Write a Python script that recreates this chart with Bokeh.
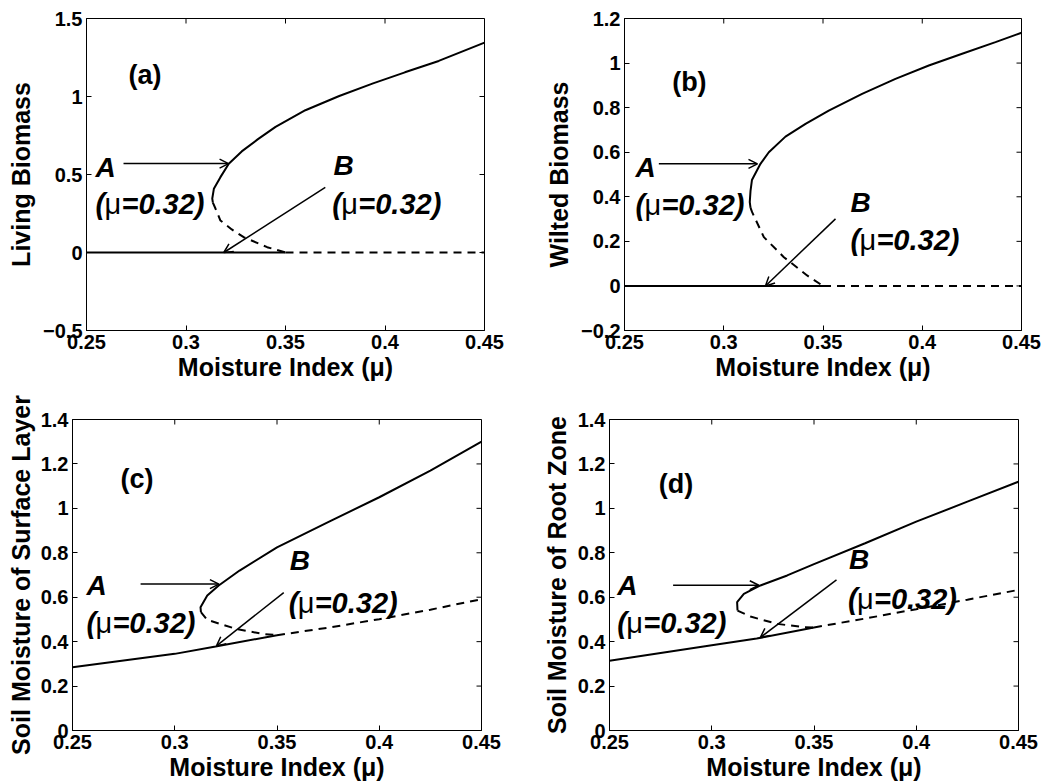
import math
from bokeh.plotting import figure
from bokeh.models import ColumnDataSource, FixedTicker, Range1d, Arrow, OpenHead
from bokeh.layouts import column, row
from bokeh.core.properties import value
from bokeh.embed import file_html
from bokeh.resources import INLINE

FONT = "Liberation Sans"

# ---------------- shared axis data ----------------
X_TICKS = [0.25, 0.3, 0.35, 0.4, 0.45]
X_TICK_LABELS = ["0.25", "0.3", "0.35", "0.4", "0.45"]
X_LABEL = "Moisture Index (\u03bc)"

# ---------------- panel (a): Living Biomass ----------------
a_y_ticks = [-0.5, 0.0, 0.5, 1.0, 1.5]
a_y_labels = ["\u22120.5", "0", "0.5", "1", "1.5"]
a_upper_x = [0.3135, 0.3132, 0.314, 0.3173, 0.3215, 0.328, 0.336, 0.345, 0.36, 0.377, 0.394, 0.41, 0.427, 0.45]
a_upper_y = [0.32, 0.346, 0.408, 0.483, 0.569, 0.648, 0.725, 0.805, 0.912, 1.003, 1.084, 1.155, 1.228, 1.345]
a_unst_x = [0.3135, 0.3148, 0.3173, 0.323, 0.329, 0.3408, 0.35]
a_unst_y = [0.32, 0.282, 0.205, 0.148, 0.098, 0.034, 0.0]
a_low_x = [0.25, 0.35]
a_low_y = [0.0, 0.0]
a_lowd_x = [0.35, 0.45]
a_lowd_y = [0.0, 0.0]
a_arrows = dict(x0=[0.2686, 0.370], y0=[0.57, 0.417], x1=[0.3214, 0.319], y1=[0.57, 0.0])
a_letters = dict(x=[0.2545, 0.3741], y=[0.545, 0.558], t=["A", "B"])
a_mu = dict(x=[0.2545, 0.3735], y=[0.314, 0.314])
a_tag = dict(x=[0.2711], y=[1.135], t=["(a)"])

# ---------------- panel (b): Wilted Biomass ----------------
b_y_ticks = [-0.2, 0.0, 0.2, 0.4, 0.6, 0.8, 1.0, 1.2]
b_y_labels = ["\u22120.2", "0", "0.2", "0.4", "0.6", "0.8", "1", "1.2"]
b_upper_x = [0.3135, 0.3131, 0.3135, 0.3142, 0.3185, 0.3227, 0.3311, 0.3412, 0.3529, 0.3697, 0.3865, 0.4033, 0.4201, 0.4369, 0.45]
b_upper_y = [0.35, 0.376, 0.428, 0.475, 0.548, 0.600, 0.670, 0.727, 0.787, 0.862, 0.929, 0.989, 1.042, 1.094, 1.136]
b_unst_x = [0.3135, 0.3143, 0.3202, 0.3303, 0.342, 0.35]
b_unst_y = [0.35, 0.331, 0.219, 0.129, 0.047, 0.0]
b_low_x = [0.25, 0.35]
b_low_y = [0.0, 0.0]
b_lowd_x = [0.35, 0.45]
b_lowd_y = [0.0, 0.0]
b_arrows = dict(x0=[0.2673, 0.3563], y0=[0.548, 0.301], x1=[0.317, 0.321], y1=[0.548, 0.0])
b_letters = dict(x=[0.2555, 0.3638], y=[0.533, 0.373], t=["A", "B"])
b_mu = dict(x=[0.2555, 0.3638], y=[0.361, 0.204])
b_tag = dict(x=[0.274], y=[0.914], t=["(b)"])

# ---------------- panel (c): Soil Moisture of Surface Layer ----------------
c_y_ticks = [0.0, 0.2, 0.4, 0.6, 0.8, 1.0, 1.2, 1.4]
c_y_labels = ["0", "0.2", "0.4", "0.6", "0.8", "1", "1.2", "1.4"]
c_upper_x = [0.3128, 0.3126, 0.3159, 0.3215, 0.3317, 0.35, 0.375, 0.40, 0.425, 0.45]
c_upper_y = [0.533, 0.555, 0.608, 0.653, 0.720, 0.824, 0.938, 1.05, 1.17, 1.30]
c_unst_x = [0.3128, 0.3159, 0.3298, 0.3428, 0.35]
c_unst_y = [0.533, 0.498, 0.458, 0.435, 0.429]
c_low_x = [0.25, 0.30, 0.32, 0.35]
c_low_y = [0.285, 0.345, 0.378, 0.429]
c_lowd_x = [0.35, 0.375, 0.40, 0.425, 0.45]
c_lowd_y = [0.429, 0.463, 0.501, 0.544, 0.591]
c_arrows = dict(x0=[0.2833, 0.3533], y0=[0.659, 0.621], x1=[0.3216, 0.3204], y1=[0.659, 0.381])
c_letters = dict(x=[0.2568, 0.3562], y=[0.651, 0.764], t=["A", "B"])
c_mu = dict(x=[0.2568, 0.3557], y=[0.486, 0.576])
c_tag = dict(x=[0.2735], y=[1.131], t=["(c)"])

# ---------------- panel (d): Soil Moisture of Root Zone ----------------
d_y_ticks = [0.0, 0.2, 0.4, 0.6, 0.8, 1.0, 1.2, 1.4]
d_y_labels = ["0", "0.2", "0.4", "0.6", "0.8", "1", "1.2", "1.4"]
d_upper_x = [0.3126, 0.3124, 0.3157, 0.3238, 0.3369, 0.35, 0.375, 0.40, 0.425, 0.45]
d_upper_y = [0.540, 0.578, 0.615, 0.653, 0.698, 0.749, 0.843, 0.940, 1.030, 1.12]
d_unst_x = [0.3126, 0.3189, 0.332, 0.345, 0.35]
d_unst_y = [0.540, 0.513, 0.480, 0.465, 0.464]
d_low_x = [0.25, 0.30, 0.322, 0.35]
d_low_y = [0.314, 0.384, 0.414, 0.464]
d_lowd_x = [0.35, 0.375, 0.40, 0.425, 0.45]
d_lowd_y = [0.464, 0.504, 0.546, 0.589, 0.633]
d_arrows = dict(x0=[0.2811, 0.361], y0=[0.654, 0.678], x1=[0.323, 0.3238], y1=[0.654, 0.419])
d_letters = dict(x=[0.2538, 0.3671], y=[0.651, 0.771], t=["A", "B"])
d_mu = dict(x=[0.2538, 0.3666], y=[0.486, 0.591])
d_tag = dict(x=[0.2741], y=[1.109], t=["(d)"])


def style_axis(ax, ticks, labels):
    ax.ticker = FixedTicker(ticks=ticks)
    ax.major_label_overrides = {float(t): l for t, l in zip(ticks, labels)}
    ax.major_tick_in = 5
    ax.major_tick_out = 0
    ax.minor_tick_in = 0
    ax.minor_tick_out = 0
    ax.axis_line_color = "black"
    ax.axis_line_width = 1
    ax.major_tick_line_color = "black"
    ax.major_tick_line_width = 1
    ax.major_label_text_font = FONT
    ax.major_label_text_font_style = "bold"
    ax.major_label_text_color = "black"
    ax.major_label_text_font_size = "20px"
    ax.major_label_standoff = 4


def panel(W, H, borders, yr, yticks, ylabels, ylabel, ylab_standoff,
          upper, unst, low, lowd, arrows, letters, mu, tag):
    l, r, t, b = borders
    p = figure(width=W, height=H, x_range=Range1d(0.25, 0.45), y_range=Range1d(*yr),
               output_backend="svg", toolbar_location=None,
               min_border_left=l, min_border_right=r, min_border_top=t, min_border_bottom=b)
    p.xgrid.visible = False
    p.ygrid.visible = False
    p.outline_line_color = "black"
    p.outline_line_width = 1
    p.background_fill_color = "white"
    p.border_fill_color = "white"

    xa = p.xaxis[0]
    style_axis(xa, X_TICKS, X_TICK_LABELS)
    xa.axis_label = X_LABEL
    xa.axis_label_text_font = FONT
    xa.axis_label_text_font_style = "bold"
    xa.axis_label_text_font_size = "25px"
    xa.axis_label_text_color = "black"
    xa.axis_label_standoff = 1

    ya = p.yaxis[0]
    style_axis(ya, yticks, ylabels)
    ya.axis_label = ylabel
    ya.axis_label_text_font = FONT
    ya.axis_label_text_font_style = "bold"
    ya.axis_label_text_font_size = "25px"
    ya.axis_label_text_color = "black"
    ya.axis_label_standoff = ylab_standoff

    # mirrored inward ticks on the top and right edges of the box
    p.ray(x=X_TICKS, y=[yr[1]] * len(X_TICKS), length=5, length_units="screen",
          angle=-math.pi / 2, line_color="black", line_width=1)
    p.ray(x=[0.45] * len(yticks), y=yticks, length=5, length_units="screen",
          angle=math.pi, line_color="black", line_width=1)

    p.line(upper[0], upper[1], line_color="black", line_width=2)
    p.line(unst[0], unst[1], line_color="black", line_width=2, line_dash="8 6")
    p.line(low[0], low[1], line_color="black", line_width=2)
    p.line(lowd[0], lowd[1], line_color="black", line_width=2, line_dash="8 6")

    asrc = ColumnDataSource(arrows)
    p.add_layout(Arrow(source=asrc, x_start="x0", y_start="y0", x_end="x1", y_end="y1",
                       line_color="black", line_width=1.5,
                       end=OpenHead(size=9, line_width=1.5, line_color="black")))

    p.text(x=letters["x"], y=letters["y"], text=letters["t"], text_font=value(FONT),
           text_font_style="bold italic", text_font_size="28px", text_color="black",
           text_baseline="middle", text_align="left")
    p.text(x=mu["x"], y=mu["y"], text=["("] * len(mu["x"]), text_font=value(FONT),
           text_font_style="bold italic", text_font_size="29px", text_color="black",
           text_baseline="middle", text_align="left")
    p.text(x=mu["x"], y=mu["y"], text=["\u03bc"] * len(mu["x"]), x_offset=9,
           text_font=value(FONT), text_font_style="normal", text_font_size="29px",
           text_color="black", text_baseline="middle", text_align="left")
    p.text(x=mu["x"], y=mu["y"], text=["=0.32)"] * len(mu["x"]), x_offset=26,
           text_font=value(FONT), text_font_style="bold italic", text_font_size="29px",
           text_color="black", text_baseline="middle", text_align="left")
    p.text(x=tag["x"], y=tag["y"], text=tag["t"], text_font=value(FONT),
           text_font_style="bold", text_font_size="27px", text_color="black",
           text_baseline="middle", text_align="left")
    return p


pa = panel(520, 392, (86, 36, 18, 62), (-0.5, 1.5), a_y_ticks, a_y_labels, "Living Biomass", 5,
           (a_upper_x, a_upper_y), (a_unst_x, a_unst_y), (a_low_x, a_low_y), (a_lowd_x, a_lowd_y),
           a_arrows, a_letters, a_mu, a_tag)
pb = panel(525, 392, (104, 24, 18, 62), (-0.2, 1.2), b_y_ticks, b_y_labels, "Wilted Biomass", 5,
           (b_upper_x, b_upper_y), (b_unst_x, b_unst_y), (b_low_x, b_low_y), (b_lowd_x, b_lowd_y),
           b_arrows, b_letters, b_mu, b_tag)
pc = panel(520, 392, (72, 39, 27, 54), (0.0, 1.4), c_y_ticks, c_y_labels,
           "Soil Moisture of Surface Layer", 3,
           (c_upper_x, c_upper_y), (c_unst_x, c_unst_y), (c_low_x, c_low_y), (c_lowd_x, c_lowd_y),
           c_arrows, c_letters, c_mu, c_tag)
pd = panel(525, 392, (89, 27, 27, 54), (0.0, 1.4), d_y_ticks, d_y_labels,
           "Soil Moisture of Root Zone", 4,
           (d_upper_x, d_upper_y), (d_unst_x, d_unst_y), (d_low_x, d_low_y), (d_lowd_x, d_lowd_y),
           d_arrows, d_letters, d_mu, d_tag)

layout = column(row(pa, pb), row(pc, pd))
open("out.html", "w").write(file_html(layout, INLINE))
